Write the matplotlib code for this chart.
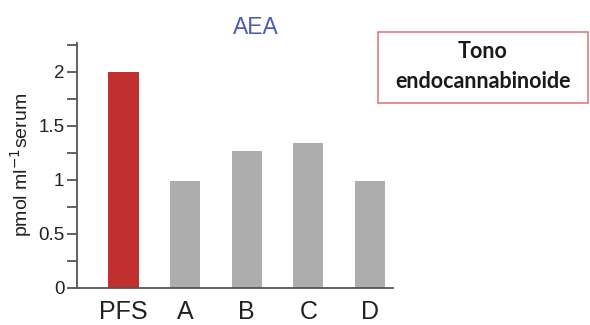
import matplotlib
from matplotlib import pyplot as plt
from matplotlib.patches import Rectangle

matplotlib.use('Agg')

groups = ['PFS', 'A', 'B', 'C', 'D']
values = [2.0, 0.99, 1.27, 1.34, 0.99]
colors = ['#c1302e', '#adadad', '#adadad', '#adadad', '#adadad']
y_ticks = [0, 0.5, 1, 1.5, 2]
y_tick_labels = ['0', '0.5', '1', '1.5', '2']

plt.rcParams['font.family'] = ['Liberation Sans', 'DejaVu Sans']

fig = plt.figure(figsize=(5.9, 3.25), dpi=100)
ax = fig.add_axes([0.1305, 0.114, 0.535, 0.755])

ax.bar(range(len(groups)), values, width=0.49, color=colors)
ax.set_xlim(-0.756, 4.37)
ax.set_ylim(0, 2.27)

ax.spines['top'].set_visible(False)
ax.spines['right'].set_visible(False)
for s in ('left', 'bottom'):
    ax.spines[s].set_color('#555555')
    ax.spines[s].set_linewidth(1.3)

ax.set_xticks(range(len(groups)))
ax.set_xticklabels(groups, fontsize=18, color='#222222')
ax.tick_params(axis='x', length=0, pad=9)
ax.set_yticks(y_ticks)
ax.set_yticklabels(y_tick_labels, fontsize=13.5, color='#222222')
ax.set_yticks([0.25, 0.75, 1.25, 1.75, 2.25], minor=True)
ax.tick_params(axis='y', which='both', length=7, width=1.3, color='#555555', pad=2)

ax.set_ylabel('pmol ml$^{-1}$serum', fontsize=14, color='#222222', labelpad=3)
fig.text(256 / 590, 1 - 28 / 325, 'AEA', ha='center', va='center',
         fontsize=16.5, color='#4a5cb8')

# text box top right
fig.add_artist(Rectangle((378 / 590, 1 - 103 / 325), 210 / 590, 71 / 325,
                         transform=fig.transFigure, facecolor='white',
                         edgecolor='#e07a80', linewidth=1.2))
fig.text(483 / 590, 1 - 52 / 325, 'Tono', ha='center', va='center',
         fontsize=15.5, fontweight='bold', family=['Lato', 'DejaVu Sans'],
         color='#1a1a1a')
fig.text(483 / 590, 1 - 82 / 325, 'endocannabinoide', ha='center', va='center',
         fontsize=15.5, fontweight='bold', family=['Lato', 'DejaVu Sans'],
         color='#1a1a1a')

fig.savefig('out.png', format='png')
